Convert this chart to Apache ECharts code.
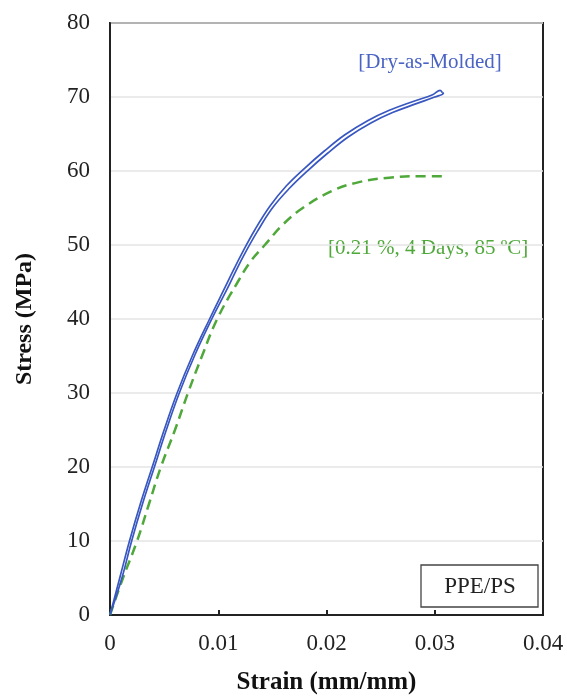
<!DOCTYPE html>
<html><head><meta charset="utf-8">
<script src="https://cdn.jsdelivr.net/npm/echarts@6/dist/echarts.min.js"></script>
<style>html,body{margin:0;padding:0;background:#fff}#c{width:567px;height:700px}</style>
</head><body><div id="c"></div>
<script>
var xTicks = [0, 0.01, 0.02, 0.03, 0.04];
var yTicks = [0, 10, 20, 30, 40, 50, 60, 70, 80];
// Dry-as-Molded (double trace)
var dryStrainA = [0, 0.0009, 0.0018, 0.0028, 0.0039, 0.0050, 0.0062, 0.0076, 0.0092, 0.0106, 0.0114, 0.0122, 0.0134, 0.0148, 0.0163, 0.0180, 0.0198, 0.0217, 0.0238, 0.0258, 0.0280, 0.0298, 0.0305, 0.0307];
var dryStressA = [0, 5, 10, 15, 20, 25, 30, 35, 40, 44.2, 46.6, 48.9, 52.1, 55.3, 58.0, 60.4, 62.7, 64.9, 66.8, 68.2, 69.4, 70.3, 70.9, 70.6];
var dryStrainB = [0, 0.0011, 0.0020, 0.0030, 0.0041, 0.0052, 0.0064, 0.0078, 0.0094, 0.0108, 0.0116, 0.0124, 0.0136, 0.0150, 0.0166, 0.0183, 0.0201, 0.0220, 0.0241, 0.0261, 0.0283, 0.0300, 0.0308, 0.0307];
var dryStressB = [0, 5, 10, 15, 20, 25, 30, 35, 40, 44.0, 46.4, 48.7, 51.8, 55.0, 57.7, 60.1, 62.4, 64.6, 66.5, 67.9, 69.1, 70.0, 70.5, 70.6];
// 0.21 %, 4 Days, 85 °C
var wetStrain = [0, 0.0012, 0.0025, 0.0036, 0.0047, 0.0060, 0.0072, 0.0085, 0.0099, 0.0118, 0.0130, 0.0143, 0.0160, 0.0178, 0.0205, 0.0230, 0.0258, 0.0285, 0.0311];
var wetStress = [0, 5, 10, 15, 20, 25, 30, 35, 40, 45, 47.8, 50, 52.8, 55, 57.3, 58.5, 59.1, 59.3, 59.3];

function pairs(xs, ys){ return xs.map(function(x,i){ return [x, ys[i]]; }); }
var serif = '"Liberation Serif", "DejaVu Serif", serif';
var chart = echarts.init(document.getElementById('c'));
chart.setOption({
  animation: false,
  grid: {left: 110, right: 24, top: 23, bottom: 82, show: true, borderColor: '#222', borderWidth: 2, backgroundColor: 'transparent'},
  xAxis: {
    type: 'value', min: 0, max: 0.04, interval: 0.01,
    name: 'Strain (mm/mm)', nameLocation: 'middle', nameGap: 55,
    nameTextStyle: {fontFamily: serif, fontWeight: 'bold', fontSize: 25, color: '#111'},
    axisLine: {show: true, lineStyle: {color: '#222', width: 2}},
    axisTick: {show: true, inside: true, length: 5, lineStyle: {color: '#222', width: 2}},
    axisLabel: {fontFamily: serif, fontSize: 23, color: '#222', margin: 17,
      formatter: function(v){ var i = xTicks.indexOf(Math.round(v*100)/100); return i>=0 ? String(xTicks[i]) : ''; }},
    splitLine: {show: false}
  },
  yAxis: {
    type: 'value', min: 0, max: 80, interval: 10,
    name: 'Stress (MPa)', nameLocation: 'middle', nameGap: 73,
    nameTextStyle: {fontFamily: serif, fontWeight: 'bold', fontSize: 24, color: '#111'},
    axisLine: {show: true, lineStyle: {color: '#222', width: 2}},
    axisTick: {show: false},
    axisLabel: {fontFamily: serif, fontSize: 23, color: '#222', margin: 20,
      formatter: function(v){ return yTicks.indexOf(v)>=0 ? String(v) : ''; }},
    splitLine: {show: true, lineStyle: {color: '#e4e4e4', width: 1.5}}
  },
  series: [
    {type: 'line', data: pairs(wetStrain, wetStress), showSymbol: false, smooth: 0.4,
      lineStyle: {color: '#4fa83a', width: 2.5, type: [10, 6]}},
    {type: 'line', data: pairs(dryStrainA, dryStressA), showSymbol: false, smooth: 0.4,
      lineStyle: {color: '#3957c0', width: 1.7}},
    {type: 'line', data: pairs(dryStrainB, dryStressB), showSymbol: false, smooth: 0.4,
      lineStyle: {color: '#3957c0', width: 1.7}}
  ],
  graphic: [
    {type: 'text', x: 430, y: 62, style: {text: '[Dry-as-Molded]', fill: '#4a63c4', font: '21px ' + serif, align: 'center', verticalAlign: 'middle'}},
    {type: 'text', x: 328, y: 248, style: {text: '[0.21 %, 4 Days, 85 \u00BAC]', fill: '#4fa83a', font: '21px ' + serif, align: 'left', verticalAlign: 'middle'}},
    {type: 'rect', shape: {x: 421, y: 565, width: 117, height: 42}, style: {fill: '#fff', stroke: '#444', lineWidth: 1.3}},
    {type: 'text', x: 480, y: 587, style: {text: 'PPE/PS', fill: '#222', font: '23px ' + serif, align: 'center', verticalAlign: 'middle'}}
  ]
});
</script></body></html>
